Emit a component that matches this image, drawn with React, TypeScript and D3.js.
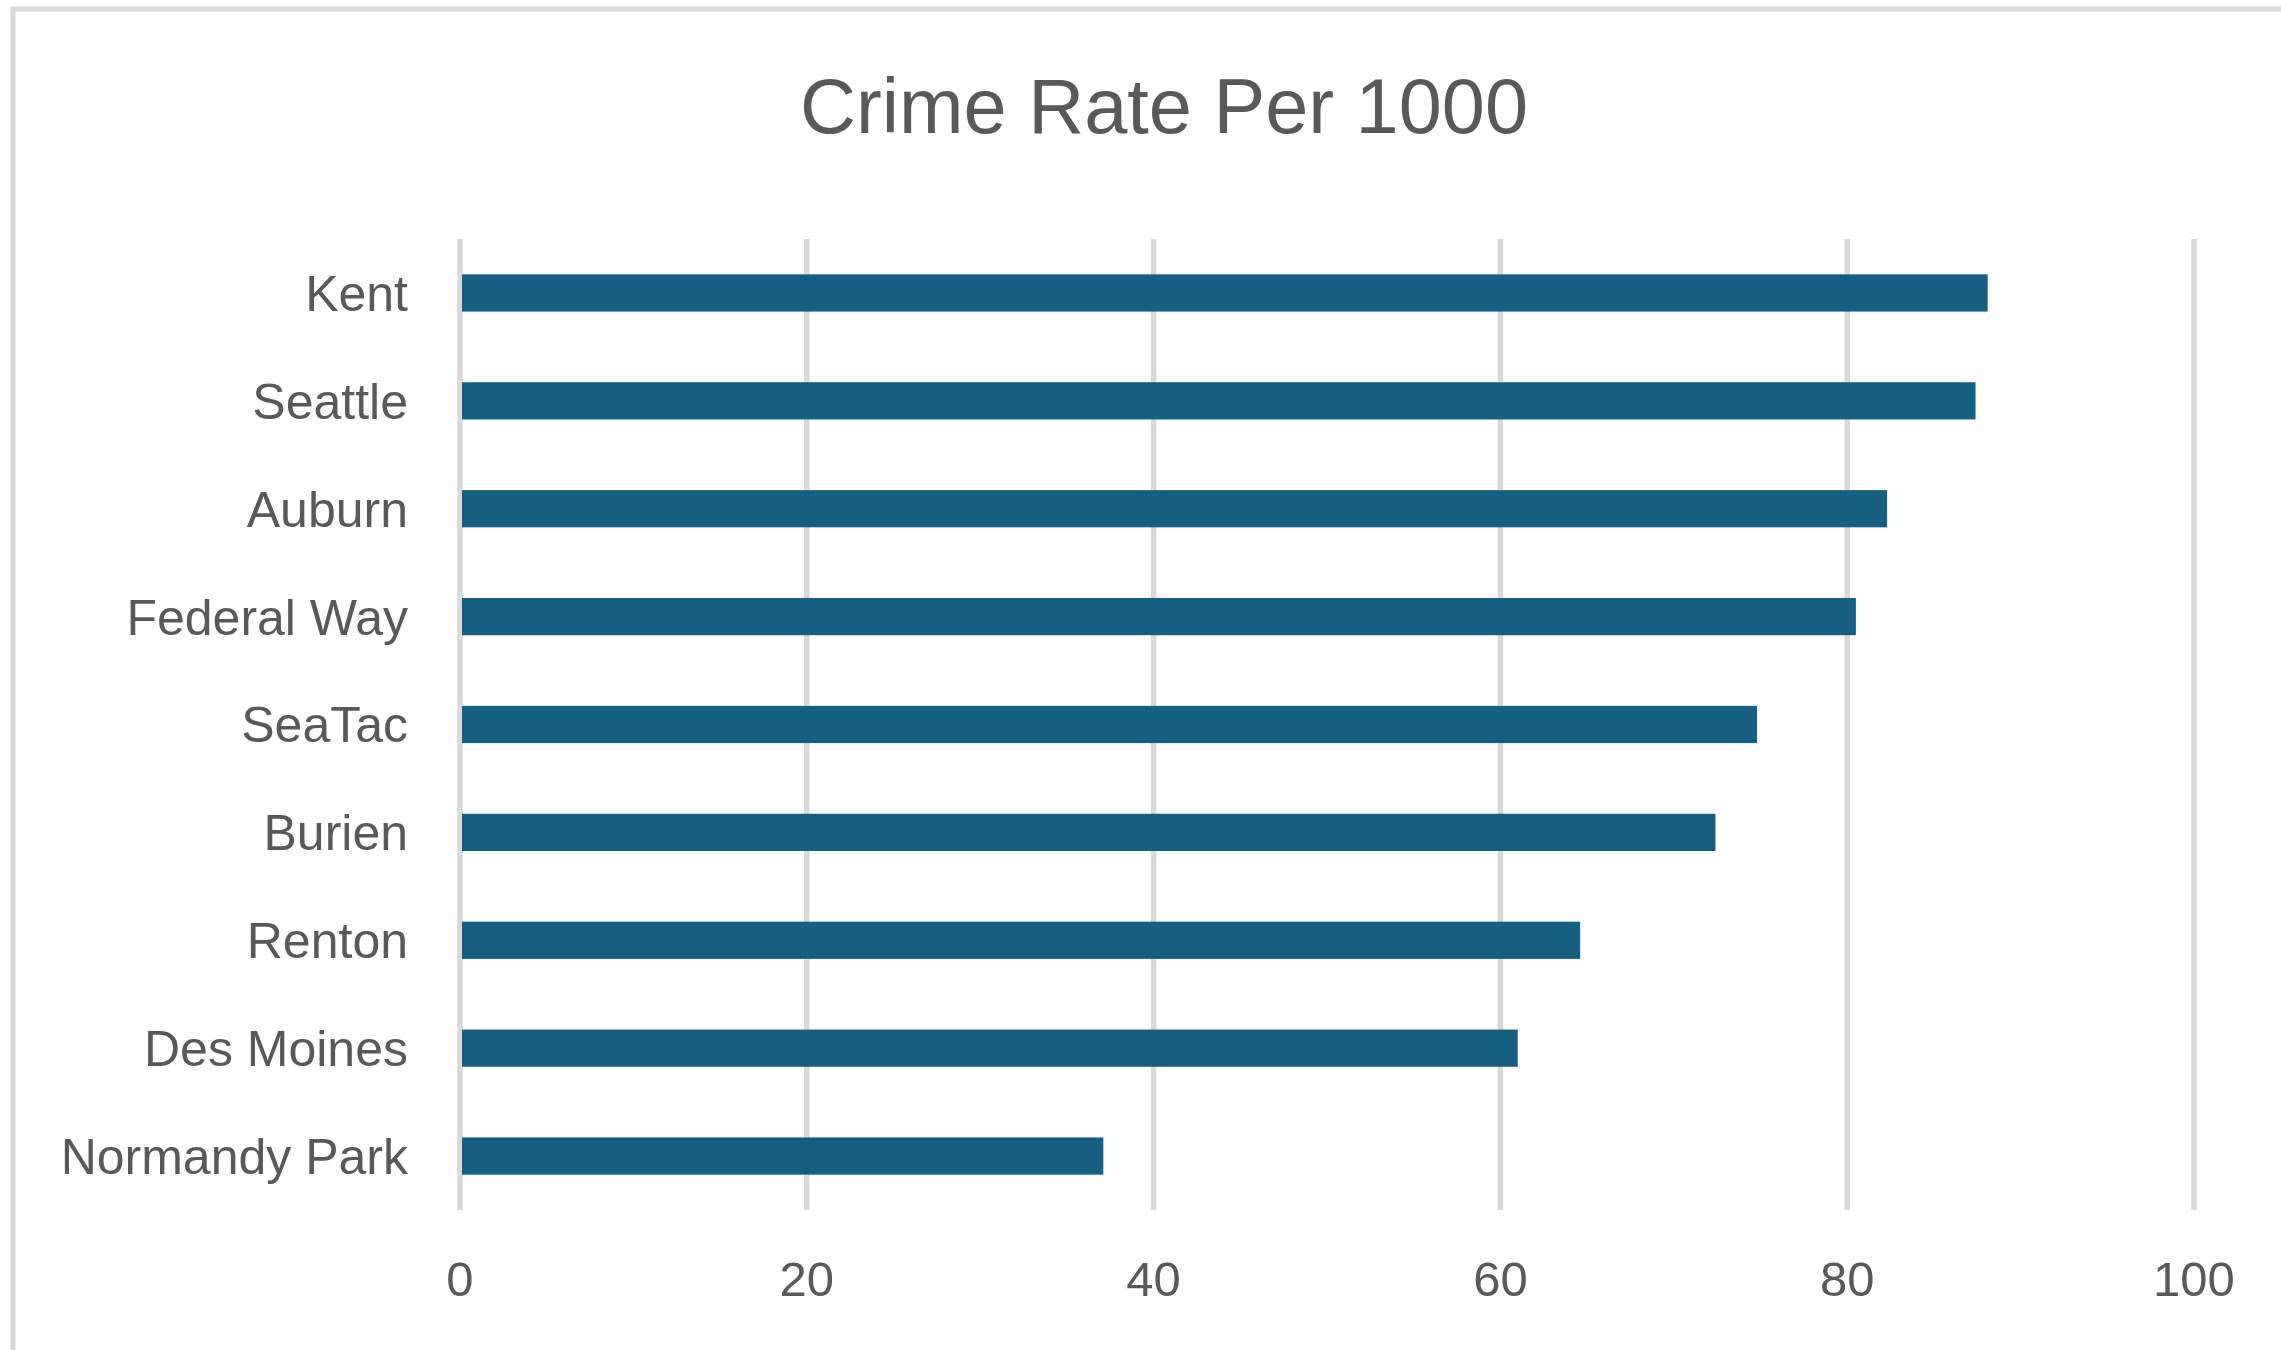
import React from "react";
import * as d3 from "d3";

const categories = ["Kent", "Seattle", "Auburn", "Federal Way", "SeaTac", "Burien", "Renton", "Des Moines", "Normandy Park"];
const values = [88.1, 87.4, 82.3, 80.5, 74.8, 72.4, 64.6, 61.0, 37.1];
const xTicks = [0, 20, 40, 60, 80, 100];
const title = "Crime Rate Per 1000";

const W = 2281;
const H = 1350;
const FONT = "'Liberation Sans', Arial, sans-serif";
const TEXT = "#595959";
const GRID = "#d9d9d9";
const BAR = "#156082";

export default function App() {
  const x = d3.scaleLinear().domain([0, 100]).range([460, 2194]);
  const y = d3
    .scaleBand<string>()
    .domain(categories)
    .range([239, 1210])
    .paddingInner(0.655)
    .paddingOuter(0.3275);
  const bw = y.bandwidth();
  const fs = 50;
  const cap = fs * 0.716;

  return (
    <svg
      width={W}
      height={H}
      style={{ position: "absolute", left: 0, top: 0, background: "#fff" }}
      fontFamily={FONT}
    >
      <rect x={0} y={0} width={W} height={H} fill="#fff" />
      <rect x={13} y={9} width={2500} height={1500} fill="none" stroke={GRID} strokeWidth={5} />
      <text x={1164} y={133} textAnchor="middle" fontSize={77.5} fill={TEXT}>
        {title}
      </text>
      {xTicks.map((t) => (
        <line key={"g" + t} x1={x(t)} x2={x(t)} y1={239} y2={1210} stroke={GRID} strokeWidth={5.5} />
      ))}
      {categories.map((c, i) => (
        <rect key={c} x={x(0) + 2} y={y(c)} width={x(values[i]) - x(0) - 2} height={bw} fill={BAR} />
      ))}
      {categories.map((c) => (
        <text
          key={"l" + c}
          x={408}
          y={(y(c) as number) + bw / 2 + cap / 2}
          textAnchor="end"
          fontSize={fs}
          fill={TEXT}
        >
          {c}
        </text>
      ))}
      {xTicks.map((t) => (
        <text key={"t" + t} x={x(t)} y={1296} textAnchor="middle" fontSize={49} fill={TEXT}>
          {t}
        </text>
      ))}
    </svg>
  );
}
